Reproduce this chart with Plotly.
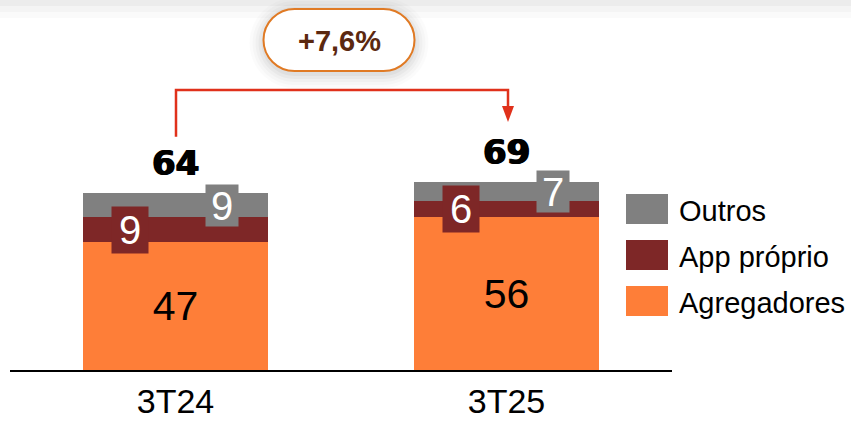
import plotly.graph_objects as go

# ---- data ----
quarters = ["3T24", "3T25"]
agregadores = [47, 56]
app_proprio = [9, 6]
outros = [9, 7]
totals = [64, 69]
growth_label = "+7,6%"
legend_names = ["Outros", "App próprio", "Agregadores"]

COLORS = {
    "Agregadores": "#FE7E38",
    "App próprio": "#7E2727",
    "Outros": "#808080",
}
ARROW_COLOR = "#E0311B"
PILL_BORDER = "#E07A24"
PILL_TEXT = "#5B2810"

# ---- geometry ----
W, H = 851, 422
ML, MR, MT, MB = 10, 179, 0, 52
PW, PH = W - ML - MR, H - MT - MB
PPU = 2.725                      # pixels per unit on the value axis
YMAX = PH / PPU
BAR_W = 0.56
FONT = "Liberation Sans, Arial, sans-serif"


def paper_x(px):
    return (px - ML) / PW


def paper_y(py):
    return (MT + PH - py) / PH


def center_px(i):
    return ML + PW * (i + 0.5) / len(quarters)


def top_px(i):
    stack = agregadores[i] + app_proprio[i] + outros[i]
    return MT + PH - stack * PPU


def pill_path(cx, cy, w, h):
    r = h / 2
    k = 0.5523 * r
    xl, xr = cx - w / 2 + r, cx + w / 2 - r
    yt, yb = cy - h / 2, cy + h / 2

    def p(x, y):
        return f"{paper_x(x):.5f},{paper_y(y):.5f}"

    return (
        f"M{p(xl, yt)} L{p(xr, yt)} "
        f"C{p(xr + k, yt)} {p(xr + r, cy - k)} {p(xr + r, cy)} "
        f"C{p(xr + r, cy + k)} {p(xr + k, yb)} {p(xr, yb)} "
        f"L{p(xl, yb)} "
        f"C{p(xl - k, yb)} {p(xl - r, cy + k)} {p(xl - r, cy)} "
        f"C{p(xl - r, cy - k)} {p(xl - k, yt)} {p(xl, yt)} Z"
    )


fig = go.Figure()

fig.add_trace(go.Bar(
    x=quarters, y=agregadores, name="Agregadores", width=BAR_W,
    marker=dict(color=COLORS["Agregadores"], line=dict(width=0)),
    text=[str(v) for v in agregadores], textposition="inside",
    insidetextanchor="middle", textangle=0,
    textfont=dict(family=FONT, size=41, color="black"),
    hoverinfo="skip", showlegend=False,
))
fig.add_trace(go.Bar(
    x=quarters, y=app_proprio, name="App próprio", width=BAR_W,
    marker=dict(color=COLORS["App próprio"], line=dict(width=0)),
    hoverinfo="skip", showlegend=False,
))
fig.add_trace(go.Bar(
    x=quarters, y=outros, name="Outros", width=BAR_W,
    marker=dict(color=COLORS["Outros"], line=dict(width=0)),
    hoverinfo="skip", showlegend=False,
))

annotations = []
shapes = []

# boxed value labels for the thin segments
for i, q in enumerate(quarters):
    annotations.append(dict(
        x=q, y=agregadores[i] + app_proprio[i] / 2, xref="x", yref="y",
        xshift=-46, text=str(app_proprio[i]), showarrow=False,
        xanchor="center", yanchor="middle",
        bgcolor=COLORS["App próprio"], width=36, height=46, borderpad=0,
        font=dict(family=FONT, size=40, color="white"),
    ))
    annotations.append(dict(
        x=q, y=agregadores[i] + app_proprio[i] + outros[i] / 2,
        xref="x", yref="y", xshift=46, text=str(outros[i]), showarrow=False,
        xanchor="center", yanchor="middle",
        bgcolor=COLORS["Outros"], width=32, height=41, borderpad=0,
        font=dict(family=FONT, size=40, color="white"),
    ))
    # totals above the bars
    annotations.append(dict(
        x=q, y=agregadores[i] + app_proprio[i] + outros[i],
        xref="x", yref="y", yshift=30, xanchor="center", yanchor="middle",
        text=f"<b>{totals[i]}</b>", showarrow=False,
        font=dict(family="DejaVu Sans", size=34, color="black",
                  shadow="0.8px 0 0 #000, -0.8px 0 0 #000"),
    ))

# faint grey band along the top edge
for y_end, alpha in [(18, 0.02), (12, 0.025), (6, 0.03)]:
    shapes.append(dict(
        type="rect", xref="paper", yref="paper",
        x0=paper_x(0), x1=paper_x(W), y0=paper_y(0), y1=paper_y(y_end),
        fillcolor=f"rgba(0,0,0,{alpha})", line=dict(width=0), layer="below",
    ))

# growth pill with soft shadow
PCX, PCY, PWID, PHGT = 339, 40, 151, 62
for grow, alpha in [(14, 0.015), (11, 0.02), (8, 0.025), (5, 0.03), (2, 0.035)]:
    shapes.append(dict(
        type="path", xref="paper", yref="paper",
        path=pill_path(PCX, PCY + 3, PWID + 2 * grow, PHGT + 2 * grow),
        fillcolor=f"rgba(0,0,0,{alpha})", line=dict(width=0),
    ))
shapes.append(dict(
    type="path", xref="paper", yref="paper",
    path=pill_path(PCX, PCY, PWID, PHGT),
    fillcolor="white", line=dict(color=PILL_BORDER, width=2),
))
annotations.append(dict(
    x=paper_x(PCX), y=paper_y(PCY + 1), xref="paper", yref="paper",
    xanchor="center", yanchor="middle",
    text=f"<b>{growth_label}</b>", showarrow=False,
    font=dict(family=FONT, size=29, color=PILL_TEXT),
))

# elbow connector between the two totals
x_a, x_b = center_px(0) + 0.5, center_px(1) + 1.5
y_start = top_px(0) - 56
y_level = 90
y_tip = top_px(1) - 60
y_head = y_tip - 16
shapes.append(dict(
    type="path", xref="paper", yref="paper",
    path=(f"M{paper_x(x_a):.5f},{paper_y(y_start):.5f} "
          f"L{paper_x(x_a):.5f},{paper_y(y_level):.5f} "
          f"L{paper_x(x_b):.5f},{paper_y(y_level):.5f} "
          f"L{paper_x(x_b):.5f},{paper_y(y_head + 1):.5f}"),
    line=dict(color=ARROW_COLOR, width=2.5),
))
shapes.append(dict(
    type="path", xref="paper", yref="paper",
    path=(f"M{paper_x(x_b - 6):.5f},{paper_y(y_head):.5f} "
          f"L{paper_x(x_b + 6):.5f},{paper_y(y_head):.5f} "
          f"L{paper_x(x_b):.5f},{paper_y(y_tip):.5f} Z"),
    fillcolor=ARROW_COLOR, line=dict(width=0),
))

# hand-built legend
for j, name in enumerate(legend_names):
    cy = 209 + j * 46
    shapes.append(dict(
        type="rect", xref="paper", yref="paper",
        x0=paper_x(626), x1=paper_x(668), y0=paper_y(cy - 15), y1=paper_y(cy + 15),
        fillcolor=COLORS[name], line=dict(width=0),
    ))
    annotations.append(dict(
        x=paper_x(677), y=paper_y(cy + 2), xref="paper", yref="paper",
        xanchor="left", yanchor="middle", text=name, showarrow=False,
        font=dict(family=FONT, size=29, color="black"),
    ))

fig.update_layout(
    width=W, height=H,
    margin=dict(l=ML, r=MR, t=MT, b=MB, pad=0),
    barmode="stack", bargap=0,
    paper_bgcolor="white", plot_bgcolor="white",
    showlegend=False,
    xaxis=dict(
        range=[-0.5, len(quarters) - 0.5], showgrid=False, zeroline=False,
        showline=True, linecolor="black", linewidth=2, ticks="",
        tickfont=dict(family=FONT, size=34, color="black"),
        fixedrange=True,
    ),
    yaxis=dict(range=[0, YMAX], visible=False, fixedrange=True),
    annotations=annotations,
    shapes=shapes,
)

fig.write_html("out.html")
